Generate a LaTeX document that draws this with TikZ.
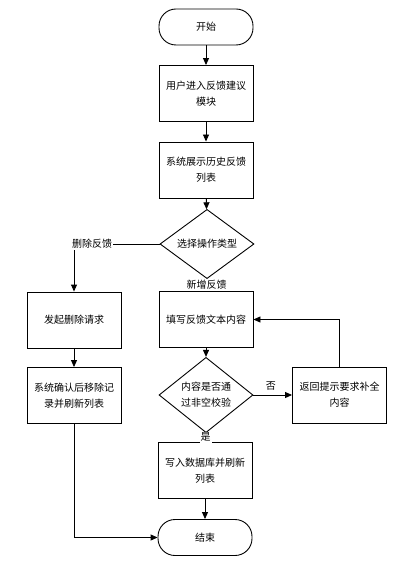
\documentclass[tikz,border=0pt]{standalone}
\usepackage{fontspec}
\setmainfont{Noto Sans CJK SC}
\usetikzlibrary{shapes.geometric,arrows.meta}

\begin{document}
\begin{tikzpicture}[x=1pt,y=-1pt,
  font=\fontsize{10}{16}\selectfont,
  box/.style={draw, line width=0.9pt, minimum width=94pt, minimum height=56pt, align=center, inner sep=2pt},
  term/.style={draw, line width=0.9pt, rounded corners=17pt, minimum width=94pt, minimum height=36pt},
  decide/.style={draw, diamond, line width=0.9pt, minimum width=94pt, minimum height=56pt, inner sep=0pt, align=center},
  lbl/.style={fill=white, inner sep=1pt},
  flow/.style={line width=0.9pt, -{Triangle[length=7pt,width=6pt]}}]

\useasboundingbox (0,0) rectangle (400,561);

% Main column
\node [term] (start) at (206,27) {开始};
\node [box] (enter) at (206,93.5) {用户进入反馈建议\\模块};
\node [box] (history) at (206,170) {系统展示历史反馈\\列表};
\node [decide] (choose) at (207,244) {选择操作类型};
\node [box] (fill) at (206,319.5) {填写反馈文本内容};
\node [decide] (check) at (206,395) {内容是否通\\过非空校验};
\node [box] (hint) at (339.5,395) {返回提示要求补全\\内容};
\node [box] (write) at (205,470.5) {写入数据库并刷新\\列表};
\node [term] (stop) at (205,537.5) {结束};

% Delete column
\node [box] (request) at (74,320) {发起删除请求};
\node [box] (remove) at (74,395.5) {系统确认后移除记\\录并刷新列表};

% Arrows
\draw [flow] (start) -- (enter);
\draw [flow] (enter) -- (history);
\draw [flow] (history) -- (choose);
\draw [flow] (choose.west) -| (request.north);
\node [lbl, anchor=west] (del) at (71,244) {删除反馈};
\draw [flow] (choose.south) -- (fill.north) node [lbl, pos=0.5] (add) {新增反馈};
\draw [flow] (fill) -- (check);
\draw [flow] (check.east) -- (hint.west) node [pos=0.45, above=1pt] (no) {否};
\draw [flow] (hint.north) |- (fill.east);
\draw [flow] (check.south) -- (write.north) node [lbl, pos=0.45] (yes) {是};
\draw [flow] (write) -- (stop);
\draw [flow] (request) -- (remove);
\draw [flow] (remove.south) |- (stop.west);
\end{tikzpicture}
\end{document}
